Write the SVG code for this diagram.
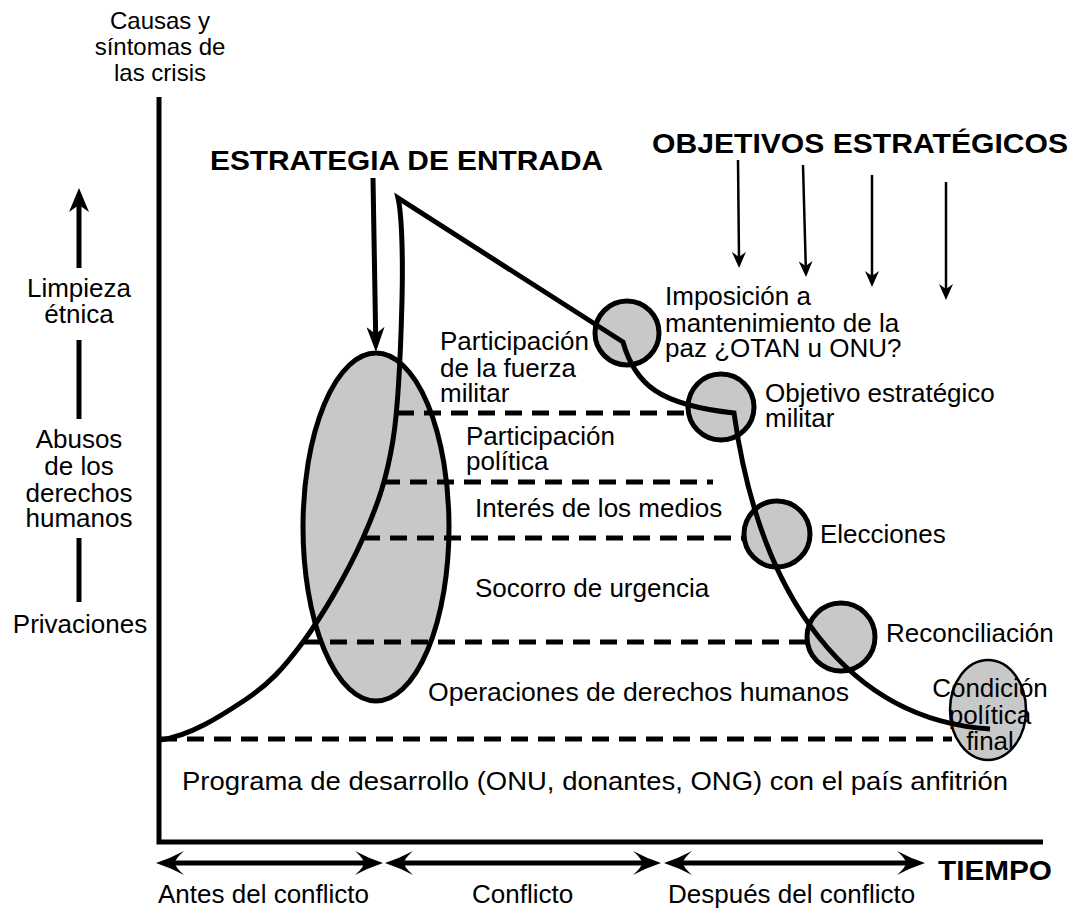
<svg xmlns="http://www.w3.org/2000/svg" width="1075" height="911" viewBox="0 0 1075 911">
<style>
text{font-family:"Liberation Sans",Arial,Helvetica,sans-serif;fill:#000}
.t{font-size:26px}
.s{font-size:24px}
.c{text-anchor:middle}
.b{font-size:28px;font-weight:bold}
.ln{fill:none;stroke:#000;stroke-width:5}
.dash{fill:none;stroke:#000;stroke-width:5;stroke-dasharray:17 10}
.node{fill:#c8c8c8;stroke:#000;stroke-width:5}
.thin{fill:none;stroke:#000;stroke-width:2.5}
</style>
<defs>
<marker id="hb" viewBox="0 0 28 26" refX="12" refY="13" markerWidth="28" markerHeight="26" orient="auto-start-reverse" markerUnits="userSpaceOnUse"><path d="M28,13 Q13,8 0,1 Q9,9 9,13 Q9,17 0,25 Q13,18 28,13 Z"/></marker>
<marker id="hm" viewBox="0 0 25 18" refX="10" refY="9" markerWidth="25" markerHeight="18" orient="auto" markerUnits="userSpaceOnUse"><path d="M25,9 L0,0 L7,9 L0,18 Z"/></marker>
<marker id="hl" viewBox="0 0 24 20" refX="10" refY="10" markerWidth="24" markerHeight="20" orient="auto" markerUnits="userSpaceOnUse"><path d="M24,10 L0,0 L7,10 L0,20 Z"/></marker>
<marker id="hs" viewBox="0 0 16 14" refX="7" refY="7" markerWidth="16" markerHeight="14" orient="auto" markerUnits="userSpaceOnUse"><path d="M16,7 L0,0 L5,7 L0,14 Z"/></marker>
</defs>
<rect width="1075" height="911" fill="#fff"/>

<g id="axis-y-title">
<text class="s c" x="160" y="29">Causas y</text>
<text class="s c" x="160" y="55">síntomas de</text>
<text class="s c" x="160" y="81">las crisis</text>
</g>

<g id="scale-left">
<line class="ln" x1="79" y1="268" x2="79" y2="202" marker-end="url(#hl)"/>
<text class="t c" x="79" y="297">Limpieza</text>
<text class="t c" x="79" y="323">étnica</text>
<line class="ln" x1="79" y1="340" x2="79" y2="419"/>
<text class="t c" x="79" y="448">Abusos</text>
<text class="t c" x="79" y="475">de los</text>
<text class="t c" x="79" y="502">derechos</text>
<text class="t c" x="79" y="527">humanos</text>
<line class="ln" x1="79" y1="538" x2="79" y2="602"/>
<text class="t c" x="80" y="633">Privaciones</text>
</g>

<g id="axes">
<path class="ln" d="M159,97 V842 H1043"/>
</g>

<g id="node-entrada">
<ellipse class="node" cx="376" cy="527" rx="73" ry="174"/>
</g>
<g id="node-imposicion">
<circle class="node" cx="627" cy="333" r="32"/>
<text class="t" x="665" y="305">Imposición a</text>
<text class="t" x="665" y="332">mantenimiento de la</text>
<text class="t" x="665" y="357">paz ¿OTAN u ONU?</text>
</g>
<g id="node-objetivo-militar">
<circle class="node" cx="721" cy="407" r="33"/>
<text class="t" x="765" y="402">Objetivo estratégico</text>
<text class="t" x="765" y="427">militar</text>
</g>
<g id="node-elecciones">
<circle class="node" cx="777" cy="534" r="33"/>
<text class="t" x="820" y="543">Elecciones</text>
</g>
<g id="node-reconciliacion">
<circle class="node" cx="841" cy="637" r="34"/>
<text class="t" x="886" y="642">Reconciliación</text>
</g>
<g id="node-final">
<ellipse cx="988" cy="710" rx="38" ry="50" fill="#c8c8c8" stroke="#000" stroke-width="2.5"/>
</g>

<g id="connectors">
<line class="dash" x1="397" y1="413" x2="688" y2="413"/>
<line class="dash" x1="383" y1="482" x2="713" y2="482"/>
<line class="dash" x1="363" y1="538" x2="744" y2="538"/>
<line class="dash" x1="303" y1="642" x2="807" y2="642"/>
<line class="dash" x1="160" y1="739" x2="952" y2="739"/>
<path class="ln" stroke-linejoin="miter" d="M160,740 C190,736 221,716 245,700 C269,684 283,669 303,642 C323,615 348,572 363,538 C378,504 386.5,480 393,440 C399.5,400 401,340 402,300 C403,260 402,215 398,198 L623,342 C635,385 660,405 734,413 C760,600 850,720 990,729"/>
<line class="ln" stroke-width="4.5" x1="373" y1="178" x2="375.7" y2="337" marker-end="url(#hm)"/>
<line class="thin" x1="738" y1="160" x2="739" y2="259" marker-end="url(#hs)"/>
<line class="thin" x1="803" y1="165" x2="805.8" y2="268" marker-end="url(#hs)"/>
<line class="thin" x1="872" y1="175" x2="872" y2="278" marker-end="url(#hs)"/>
<line class="thin" x1="946" y1="182" x2="946" y2="291" marker-end="url(#hs)"/>
<line class="ln" x1="172" y1="863" x2="367" y2="863" marker-start="url(#hb)" marker-end="url(#hb)"/>
<line class="ln" x1="401" y1="863" x2="645" y2="863" marker-start="url(#hb)" marker-end="url(#hb)"/>
<line class="ln" x1="680" y1="863" x2="909" y2="863" marker-start="url(#hb)" marker-end="url(#hb)"/>
</g>

<g id="titles">
<text class="b" x="210" y="170" textLength="393" lengthAdjust="spacingAndGlyphs">ESTRATEGIA DE ENTRADA</text>
<text class="b" x="652" y="153" textLength="416" lengthAdjust="spacingAndGlyphs">OBJETIVOS ESTRATÉGICOS</text>
</g>

<g id="band-labels">
<text class="t" x="440" y="350">Participación</text>
<text class="t" x="440" y="377">de la fuerza</text>
<text class="t" x="440" y="402">militar</text>
<text class="t" x="466" y="445">Participación</text>
<text class="t" x="466" y="470">política</text>
<text class="t" x="475" y="517">Interés de los medios</text>
<text class="t" x="475" y="597">Socorro de urgencia</text>
<text class="t" x="428" y="701" textLength="421" lengthAdjust="spacingAndGlyphs">Operaciones de derechos humanos</text>
<text class="t" x="182" y="790" textLength="826" lengthAdjust="spacingAndGlyphs">Programa de desarrollo (ONU, donantes, ONG) con el país anfitrión</text>
</g>

<g id="final-label">
<text class="t c" x="990" y="697">Condición</text>
<text class="t c" x="990" y="724">política</text>
<text class="t c" x="990" y="750">final</text>
</g>

<g id="time-axis">
<text class="b" x="938" y="880" textLength="114" lengthAdjust="spacingAndGlyphs">TIEMPO</text>
<text class="t" x="158" y="903">Antes del conflicto</text>
<text class="t" x="472" y="903">Conflicto</text>
<text class="t" x="668" y="903">Después del conflicto</text>
</g>
</svg>
